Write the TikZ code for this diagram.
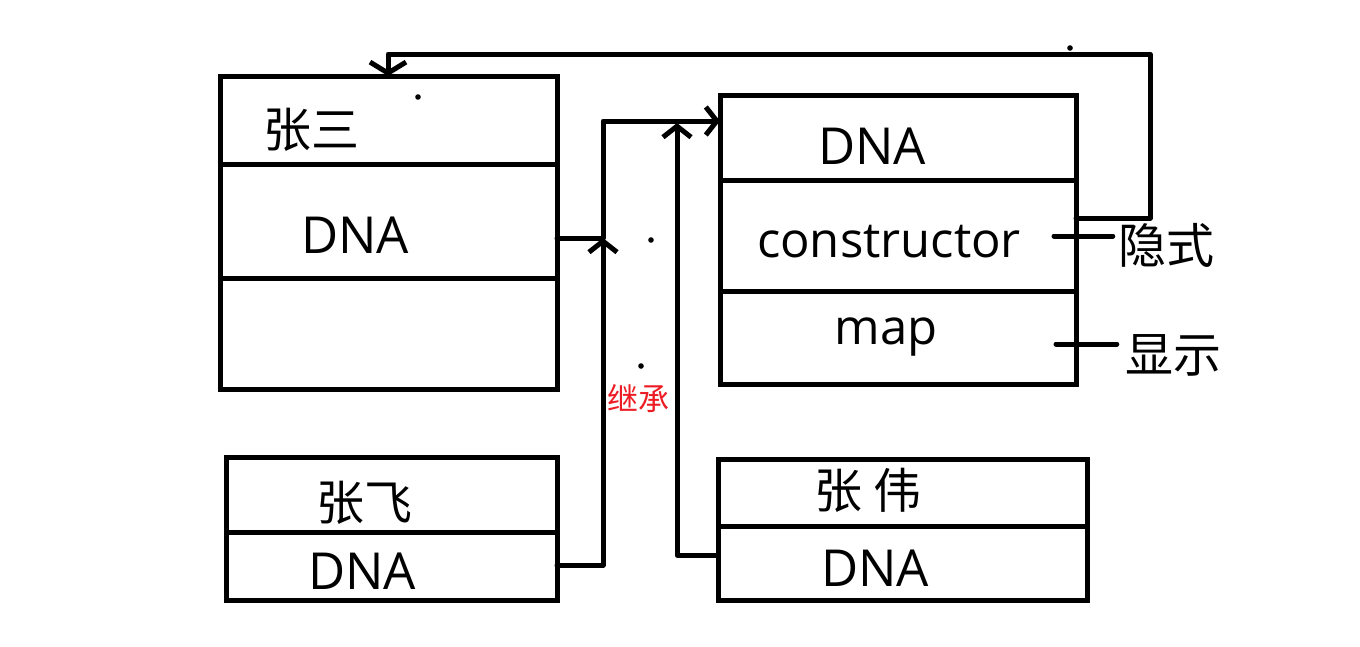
\documentclass[tikz,border=0pt]{standalone}
\usepackage{fontspec}
\setmainfont{Open Sans}
\newfontfamily\cjk{Noto Sans CJK SC}
\usetikzlibrary{arrows.meta}
\definecolor{jred}{RGB}{237,28,36}
\tikzset{
  row/.style={draw, rectangle, line width=5pt, inner sep=0pt, outer sep=0pt},
  latin/.style={inner sep=0pt, font=\fontsize{51}{60}\selectfont},
  latinsm/.style={inner sep=0pt, font=\fontsize{49}{58}\selectfont},
  han/.style={inner sep=0pt, font=\cjk\fontsize{48}{56}\selectfont},
  conn/.style={line width=5pt, line cap=round, line join=round},
  tip/.style={-{Straight Barb[length=11pt,width=28pt]}},
  stray/.style={fill=black}
}
\begin{document}
\begin{tikzpicture}[x=1pt,y=-1pt]
\fill[white] (0,0) rectangle (1360,646);
\useasboundingbox (0,0) rectangle (1360,646);
% boxes
\node[row, minimum width=337pt, minimum height=88pt]  (zs1) at (388.5,120) {};
\node[row, minimum width=337pt, minimum height=114pt] (zs2) at (388.5,221) {};
\node[row, minimum width=337pt, minimum height=111pt] (zs3) at (388.5,333.5) {};
\node[row, minimum width=356pt, minimum height=85pt]  (r1) at (898,137.5) {};
\node[row, minimum width=356pt, minimum height=111pt] (r2) at (898,235.5) {};
\node[row, minimum width=356pt, minimum height=93pt]  (r3) at (898,337.5) {};
\node[row, minimum width=331pt, minimum height=75pt]  (zf1) at (391.5,494.5) {};
\node[row, minimum width=331pt, minimum height=68pt]  (zf2) at (391.5,566) {};
\node[row, minimum width=369pt, minimum height=67pt]  (zw1) at (902.5,492.5) {};
\node[row, minimum width=369pt, minimum height=74pt]  (zw2) at (902.5,563) {};
% texts
\node[han]   (tzs)  at (311,130) {张三};
\node[latin] (tdna1) at (355,235) {DNA};
\node[latin] (tdna2) at (872,146) {DNA};
\node[latinsm] (tcon) at (889,242) {constructor};
\node[latinsm] (tmap) at (886,337) {map};
\node[han]   (tyin) at (1166,245) {隐式};
\node[han]   (txian) at (1173,355) {显示};
\node[han, text=jred, font=\cjk\fontsize{31}{36}\selectfont] (tjc) at (638,399) {继承};
\node[han]   (tzf)  at (364,503) {张飞};
\node[latin] (tdna3) at (362,571) {DNA};
\node[han]   (tzw)  at (868,490) {张 伟};
\node[latin] (tdna4) at (875,568) {DNA};
% junction coordinates
\coordinate (j1) at (603,238);
\coordinate (j2) at (603,121);
\coordinate (zfc) at (603,565);
\coordinate (zwc) at (677,555);
\coordinate (zwt) at (677,123);
\coordinate (fb1) at (1150,218);
\coordinate (fb2) at (1150,54);
\coordinate (fb3) at (388,54);
\coordinate (s1) at (1054,236);
\coordinate (s2) at (1056,344);
% connectors
\draw[conn] (zs2.east |- j1) -- (j1);
\draw[conn, tip] (zf2.east |- zfc) -- (zfc) -- (j1);
\draw[conn, tip] (j1) -- (j2) -- (r1.west |- j2);
\draw[conn, tip] (zw2.west |- zwc) -- (zwc) -- (zwt);
\draw[conn, -{Straight Barb[length=11pt,width=36pt]}] (r2.east |- fb1) -- (fb1) -- (fb2) -- (fb3) -- (fb3 |- zs1.north);
\draw[conn] (s1) -- ([xshift=-5pt]tyin.west |- s1);
\draw[conn] (s2) -- ([xshift=-8pt]txian.west |- s2);
% stray dots
\fill[stray] (418,97) circle[radius=2.8pt];
\fill[stray] (651,240) circle[radius=2.8pt];
\fill[stray] (641,366) circle[radius=2.8pt];
\fill[stray] (1070,48) circle[radius=2.8pt];
\end{tikzpicture}
\end{document}
